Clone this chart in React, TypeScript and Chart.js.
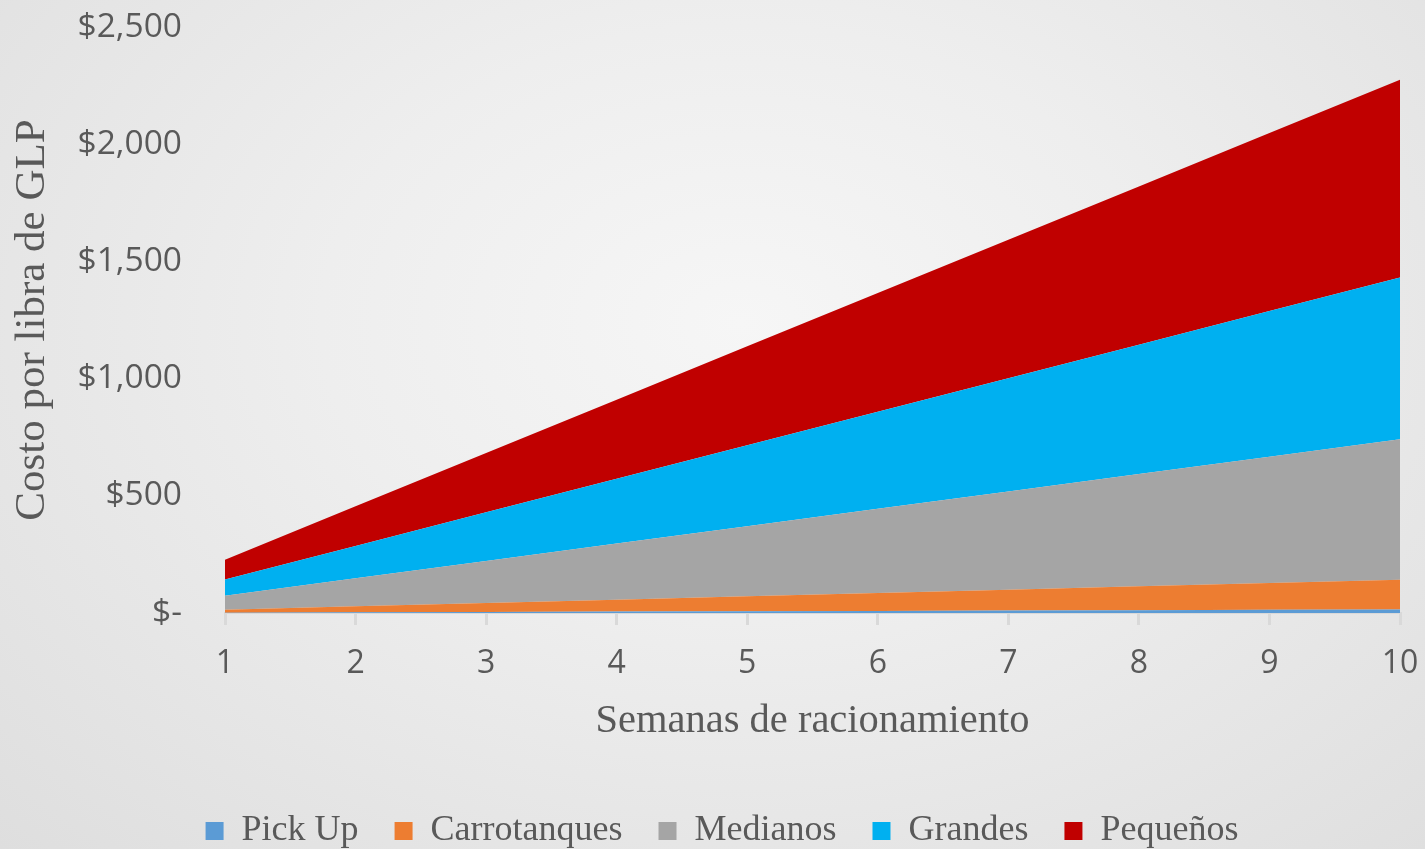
import React, { useEffect, useRef } from "react";
import { Chart, registerables } from "chart.js";

Chart.register(...registerables);

const weeks = ["1", "2", "3", "4", "5", "6", "7", "8", "9", "10"];
const pickUp = [1.5, 3, 4.5, 6, 7.5, 9, 10.5, 12, 13.5, 15];
const carrotanques = [12.7, 25.4, 38.1, 50.8, 63.5, 76.2, 88.9, 101.6, 114.3, 127];
const medianos = [59.9, 119.8, 179.7, 239.6, 299.5, 359.4, 419.3, 479.2, 539.1, 599];
const grandes = [69, 138, 207, 276, 345, 414, 483, 552, 621, 690];
const pequenos = [84.4, 168.8, 253.2, 337.6, 422, 506.4, 590.8, 675.2, 759.6, 844];

const seriesNames = ["Pick Up", "Carrotanques", "Medianos", "Grandes", "Pequeños"];
const seriesColors = ["#5B9BD5", "#ED7D31", "#A5A5A5", "#00B0F0", "#C00000"];
const seriesValues = [pickUp, carrotanques, medianos, grandes, pequenos];

const yTicks = [0, 500, 1000, 1500, 2000, 2500];

const legendShift = {
  id: "legendShift",
  afterLayout(chart: any) {
    const lg = chart.legend;
    if (lg) {
      lg.left += 22;
      lg.right += 22;
    }
  },
};

export default function App() {
  const canvasRef = useRef<HTMLCanvasElement | null>(null);

  useEffect(() => {
    document.body.style.margin = "0";
    const canvas = canvasRef.current;
    if (!canvas) return;
    const chart = new Chart(canvas, {
      type: "line",
      data: {
        labels: weeks,
        datasets: seriesValues.map((vals, i) => ({
          label: seriesNames[i],
          data: vals,
          backgroundColor: seriesColors[i],
          borderColor: seriesColors[i],
          borderWidth: 0,
          pointRadius: 0,
          fill: i === 0 ? "origin" : "-1",
          tension: 0,
        })),
      },
      plugins: [legendShift],
      options: {
        animation: false,
        responsive: false,
        maintainAspectRatio: false,
        layout: { padding: { top: 27, right: 25, bottom: -10, left: 0 } },
        plugins: {
          tooltip: { enabled: false },
          legend: {
            position: "bottom",
            labels: {
              boxWidth: 18,
              boxHeight: 18,
              padding: 36,
              color: "#595959",
              font: { family: "'Liberation Serif', serif", size: 36 },
            },
          },
        },
        scales: {
          x: {
            offset: false,
            border: { display: true, color: "#d9d9d9", width: 2 },
            grid: {
              display: true,
              drawOnChartArea: false,
              drawTicks: true,
              tickLength: 12,
              color: "#d9d9d9",
              lineWidth: 3,
            },
            ticks: {
              color: "#595959",
              padding: 20,
              maxRotation: 0,
              font: { family: "'Open Sans', sans-serif", size: 32 },
            },
            title: {
              display: true,
              text: "Semanas de racionamiento",
              color: "#595959",
              font: { family: "'Liberation Serif', serif", size: 40.5 },
              padding: { top: 0, bottom: 31 },
            },
            afterFit: (scale: any) => {
              scale.height = 164;
              scale.paddingLeft = 0;
              scale.paddingRight = 0;
            },
          },
          y: {
            stacked: true,
            min: 0,
            max: 2500,
            border: { display: false },
            grid: { display: false, drawTicks: false },
            afterBuildTicks: (scale: any) => {
              scale.ticks = yTicks.map((v) => ({ value: v }));
            },
            ticks: {
              color: "#595959",
              padding: 43,
              font: { family: "'Open Sans', sans-serif", size: 33.5 },
              callback: (v: any) =>
                Number(v) === 0 ? "$-" : "$" + Number(v).toLocaleString("en-US"),
            },
            title: {
              display: true,
              text: "Costo por libra de GLP",
              color: "#595959",
              font: { family: "'Liberation Serif', serif", size: 43 },
              padding: { top: 7, bottom: 0 },
            },
            afterFit: (scale: any) => {
              scale.width = 225;
              scale.paddingTop = 0;
              scale.paddingBottom = 0;
            },
          },
        },
      },
    });
    return () => chart.destroy();
  }, []);

  return (
    <div
      style={{
        position: "fixed",
        left: 0,
        top: 0,
        width: 1425,
        height: 849,
        background:
          "radial-gradient(ellipse at 52% 38%, #f6f6f6 0%, #eeeeee 40%, #dedede 100%)",
      }}
    >
      <canvas ref={canvasRef} width={1425} height={849} style={{ display: "block" }} />
    </div>
  );
}
